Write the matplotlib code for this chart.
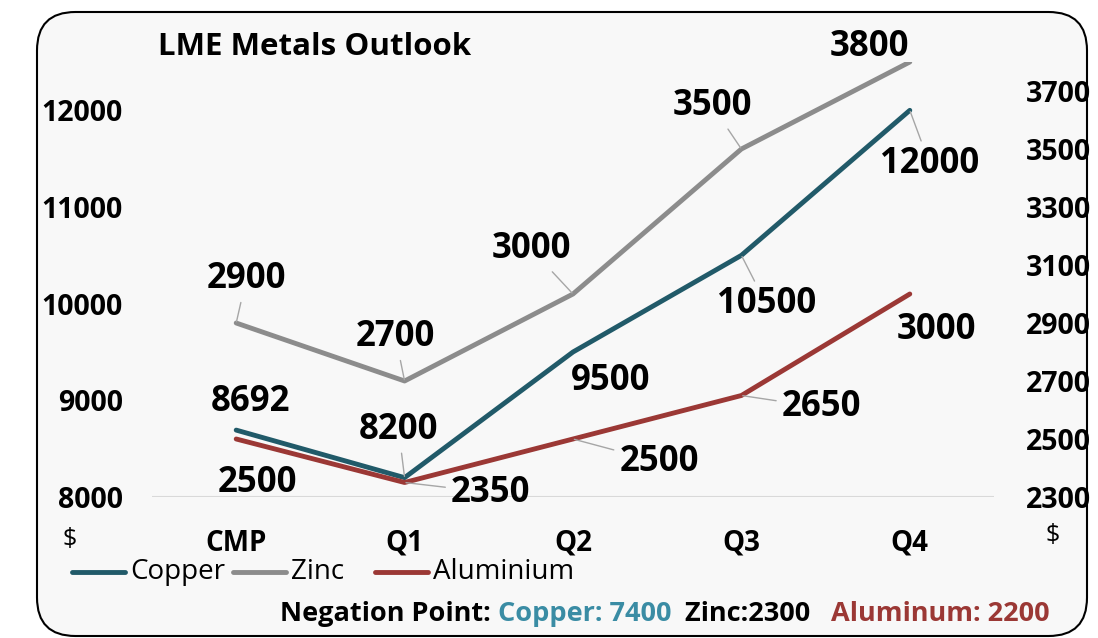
import matplotlib.pyplot as plt
from matplotlib.patches import FancyBboxPatch
from matplotlib.lines import Line2D

# --- data
periods = ['CMP', 'Q1', 'Q2', 'Q3', 'Q4']
copper = [8692, 8200, 9500, 10500, 12000]
zinc = [2900, 2700, 3000, 3500, 3800]
aluminium = [2500, 2350, 2500, 2650, 3000]
series_names = ['Copper', 'Zinc', 'Aluminium']

left_ticks = [8000, 9000, 10000, 11000, 12000]
right_ticks = [2300, 2500, 2700, 2900, 3100, 3300, 3500, 3700]

c_copper = '#215a69'
c_zinc = '#8c8c8c'
c_alu = '#9b3835'
c_lead = '#a6a6a6'

plt.rcParams['font.family'] = ['Open Sans', 'DejaVu Sans']

W, H = 1098, 638
fig = plt.figure(figsize=(W / 100, H / 100), dpi=100)
fig.patch.set_facecolor('white')

# rounded frame
frame = FancyBboxPatch((37 / W, 2 / H), 1050 / W, 624 / H,
                       boxstyle='round,pad=0,rounding_size=0.035',
                       transform=fig.transFigure, facecolor='#f8f8f8',
                       edgecolor='black', lw=1.5, zorder=-5, mutation_aspect=W / H)
fig.patches.append(frame)

ax = fig.add_axes([152 / W, 1 - 497 / H, 842 / W, 435 / H])
ax2 = ax.twinx()
for a in (ax, ax2):
    a.set_facecolor('none')
    for s in a.spines.values():
        s.set_visible(False)
    a.tick_params(length=0)

x = range(len(periods))
ax.plot(x, copper, color=c_copper, lw=3.5, solid_capstyle='round', zorder=3)
ax2.plot(x, zinc, color=c_zinc, lw=3.5, solid_capstyle='round')
ax2.plot(x, aluminium, color=c_alu, lw=3.5, solid_capstyle='round')

ax.set_xlim(-0.5, 4.5)
ax.set_ylim(8000, 12500)
ax2.set_ylim(2300, 3800)
ax.axhline(8000, color='#d9d9d9', lw=1.5, zorder=1)

ax.set_xticks(list(x))
ax.set_xticklabels(periods, fontsize=20, fontweight='bold')
ax.tick_params(axis='x', pad=23)
ax.set_yticks(left_ticks)
ax.set_yticklabels([str(v) for v in left_ticks], fontsize=20.5, fontweight='bold')
ax.tick_params(axis='y', pad=21)
ax2.set_yticks(right_ticks)
ax2.set_yticklabels([str(v) for v in right_ticks], fontsize=20.5, fontweight='bold')
ax2.tick_params(axis='y', pad=23)

# --- data labels: (offset px, leader line?)
zinc_lab = [((10, 44), True), ((-9, 44), True), ((-42, 45), True), ((-29, 43), True), ((-40, 15), False)]
copper_lab = [((14, 28), False), ((-6, 48), True), ((38, -29), False), ((25, -49), True), ((20, -54), True)]
alu_lab = [((21, -44), False), ((86, -10), True), ((86, -23), True), ((80, -12), True), ((27, -36), False)]


def label(vals, specs, trans):
    for i, (v, ((dx, dy), lead)) in enumerate(zip(vals, specs)):
        kw = {}
        if lead:
            kw['arrowprops'] = dict(arrowstyle='-', color=c_lead, lw=1, shrinkA=2, shrinkB=1)
        ax2.annotate(str(v), xy=(i, v), xycoords=trans, xytext=(dx, dy),
                     textcoords='offset pixels', ha='center', va='center',
                     fontsize=25, fontweight='bold', zorder=5, **kw)


label(zinc, zinc_lab, ax2.transData)
label(copper, copper_lab, ax.transData)
label(aluminium, alu_lab, ax2.transData)

# title, units
fig.text(158 / W, 1 - 47 / H, 'LME Metals Outlook', fontsize=22.5, fontweight='bold',
         ha='left', va='center')
fig.text(70 / W, 1 - 540 / H, '$', fontsize=18, ha='center', va='center')
fig.text(1053 / W, 1 - 535 / H, '$', fontsize=18, ha='center', va='center')

# legend, equal-width entries like the spreadsheet one
for name, col, x0 in zip(series_names, (c_copper, c_zinc, c_alu), (72, 233, 375)):
    fig.add_artist(Line2D([x0 / W, (x0 + 53) / W], [1 - 572 / H] * 2, color=col, lw=3.5,
                          solid_capstyle='round', transform=fig.transFigure))
    fig.text((x0 + 58) / W, 1 - 572 / H, name, fontsize=20, ha='left', va='center')

# footer with coloured parts
parts = [('Negation Point: ', 'black'), ('Copper: 7400', '#3a8ca4'), ('  Zinc:2300', 'black'),
         ('   Aluminum: 2200', c_alu)]
fig.canvas.draw()
r = fig.canvas.get_renderer()
xpos = 280
for txt, col in parts:
    t = fig.text(xpos / W, 1 - 614 / H, txt, fontsize=19.5, fontweight='bold', color=col,
                 ha='left', va='center')
    xpos += t.get_window_extent(r).width

fig.savefig('out.png', dpi=100, facecolor=fig.get_facecolor())
